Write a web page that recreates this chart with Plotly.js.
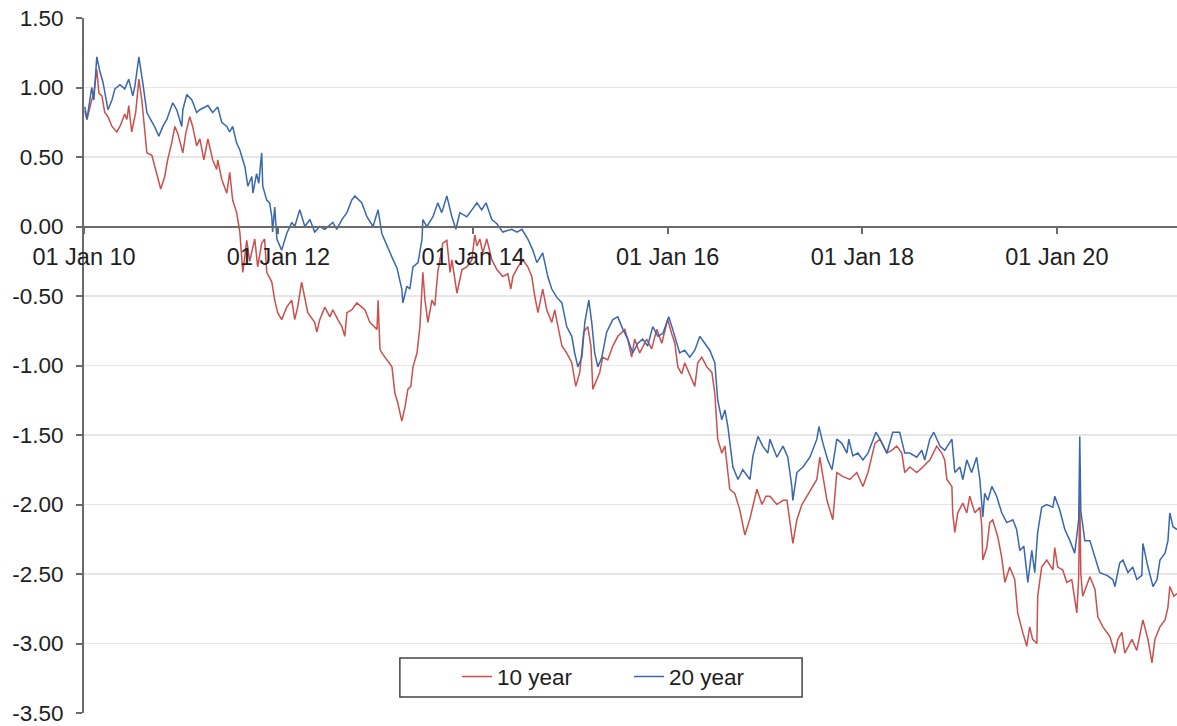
<!DOCTYPE html>
<html>
<head>
<meta charset="utf-8">
<script src="https://cdn.plot.ly/plotly-3.0.1.min.js"></script>
<style>
html,body{margin:0;padding:0;background:#fff;}
#chart{width:1177px;height:726px;}
</style>
</head>
<body>
<div id="chart"></div>
<script>
// Dates as decimal years
const years10 = [2010.010,2010.031,2010.082,2010.103,2010.134,2010.154,2010.185,2010.216,2010.247,2010.288,2010.339,2010.370,2010.421,2010.442,2010.462,2010.493,2010.534,2010.565,2010.596,2010.617,2010.647,2010.699,2010.730,2010.771,2010.791,2010.832,2010.863,2010.904,2010.935,2010.966,2011.017,2011.048,2011.089,2011.120,2011.161,2011.192,2011.233,2011.274,2011.326,2011.367,2011.377,2011.418,2011.470,2011.501,2011.531,2011.572,2011.603,2011.634,2011.675,2011.706,2011.757,2011.788,2011.829,2011.860,2011.881,2011.932,2011.963,2011.994,2012.035,2012.086,2012.138,2012.169,2012.199,2012.240,2012.271,2012.302,2012.374,2012.395,2012.425,2012.477,2012.528,2012.559,2012.610,2012.652,2012.682,2012.703,2012.754,2012.806,2012.857,2012.888,2012.939,2012.991,2013.011,2013.022,2013.042,2013.063,2013.114,2013.165,2013.196,2013.227,2013.268,2013.299,2013.330,2013.361,2013.381,2013.422,2013.453,2013.484,2013.505,2013.535,2013.576,2013.607,2013.638,2013.690,2013.731,2013.762,2013.782,2013.834,2013.885,2013.936,2013.988,2014.018,2014.039,2014.070,2014.101,2014.142,2014.193,2014.245,2014.306,2014.358,2014.388,2014.409,2014.461,2014.512,2014.563,2014.604,2014.635,2014.666,2014.717,2014.758,2014.810,2014.841,2014.913,2014.964,2015.015,2015.057,2015.098,2015.139,2015.180,2015.211,2015.231,2015.272,2015.303,2015.334,2015.385,2015.437,2015.488,2015.560,2015.591,2015.632,2015.663,2015.714,2015.786,2015.838,2015.889,2015.940,2016.002,2016.043,2016.074,2016.105,2016.146,2016.177,2016.249,2016.280,2016.310,2016.351,2016.403,2016.454,2016.485,2016.516,2016.557,2016.588,2016.619,2016.639,2016.691,2016.742,2016.793,2016.845,2016.917,2016.968,2017.009,2017.050,2017.122,2017.184,2017.225,2017.287,2017.328,2017.379,2017.431,2017.492,2017.533,2017.564,2017.636,2017.698,2017.739,2017.801,2017.873,2017.944,2018.006,2018.058,2018.130,2018.181,2018.253,2018.304,2018.356,2018.407,2018.438,2018.489,2018.561,2018.623,2018.695,2018.767,2018.818,2018.849,2018.870,2018.921,2018.931,2018.952,2018.983,2019.034,2019.075,2019.106,2019.157,2019.209,2019.229,2019.240,2019.281,2019.311,2019.342,2019.394,2019.435,2019.466,2019.517,2019.568,2019.599,2019.651,2019.692,2019.723,2019.753,2019.795,2019.805,2019.846,2019.897,2019.959,2019.979,2020.010,2020.062,2020.103,2020.154,2020.206,2020.226,2020.236,2020.247,2020.267,2020.339,2020.391,2020.422,2020.473,2020.545,2020.596,2020.627,2020.668,2020.699,2020.771,2020.822,2020.884,2020.935,2020.976,2021.007,2021.059,2021.110,2021.141,2021.161,2021.202,2021.233];
const values10 = [0.83,0.77,0.91,0.96,1.13,0.96,0.94,0.82,0.79,0.72,0.68,0.72,0.81,0.77,0.87,0.68,0.82,1.06,0.91,0.75,0.53,0.51,0.43,0.32,0.27,0.36,0.48,0.60,0.72,0.67,0.53,0.67,0.79,0.72,0.58,0.63,0.48,0.63,0.48,0.41,0.48,0.34,0.24,0.39,0.19,0.10,-0.04,-0.33,-0.10,-0.25,-0.09,-0.29,-0.12,-0.09,-0.33,-0.40,-0.53,-0.62,-0.67,-0.58,-0.53,-0.67,-0.58,-0.40,-0.53,-0.62,-0.69,-0.76,-0.67,-0.58,-0.65,-0.60,-0.67,-0.72,-0.79,-0.62,-0.60,-0.55,-0.58,-0.60,-0.69,-0.73,-0.74,-0.53,-0.88,-0.91,-0.96,-1.01,-1.20,-1.27,-1.40,-1.30,-1.17,-1.15,-1.01,-0.91,-0.72,-0.33,-0.53,-0.69,-0.53,-0.57,-0.33,-0.12,-0.10,-0.33,-0.24,-0.48,-0.31,-0.29,-0.24,-0.06,-0.14,-0.09,-0.19,-0.09,-0.24,-0.31,-0.36,-0.34,-0.45,-0.36,-0.29,-0.24,-0.29,-0.36,-0.50,-0.62,-0.45,-0.60,-0.69,-0.60,-0.86,-0.91,-0.98,-1.15,-1.05,-0.76,-0.72,-0.86,-1.17,-1.10,-1.05,-0.94,-0.96,-0.86,-0.79,-0.74,-0.81,-0.94,-0.81,-0.91,-0.81,-0.88,-0.74,-0.84,-0.67,-0.77,-0.84,-1.01,-1.06,-0.98,-1.10,-1.15,-0.98,-0.94,-1.01,-1.05,-1.20,-1.53,-1.63,-1.58,-1.77,-1.89,-1.92,-2.04,-2.22,-2.10,-1.89,-2.00,-1.94,-1.94,-2.00,-1.97,-1.97,-2.28,-2.11,-2.00,-1.94,-1.87,-1.82,-1.66,-1.97,-2.11,-1.77,-1.80,-1.82,-1.77,-1.87,-1.77,-1.56,-1.53,-1.63,-1.61,-1.58,-1.63,-1.77,-1.73,-1.77,-1.73,-1.68,-1.58,-1.63,-1.68,-1.82,-1.87,-2.06,-2.20,-2.06,-1.99,-2.06,-1.94,-2.06,-2.02,-2.15,-2.40,-2.31,-2.13,-2.11,-2.23,-2.38,-2.56,-2.45,-2.54,-2.78,-2.92,-3.02,-2.88,-2.97,-3.00,-2.66,-2.45,-2.40,-2.47,-2.31,-2.45,-2.47,-2.56,-2.54,-2.78,-2.52,-1.94,-2.50,-2.66,-2.52,-2.61,-2.81,-2.88,-2.95,-3.07,-2.97,-2.92,-3.07,-2.97,-3.05,-2.83,-2.97,-3.14,-2.97,-2.88,-2.83,-2.74,-2.59,-2.66,-2.64];

const years20 = [2010.010,2010.031,2010.082,2010.103,2010.134,2010.164,2010.195,2010.226,2010.247,2010.288,2010.319,2010.370,2010.421,2010.462,2010.504,2010.524,2010.565,2010.606,2010.647,2010.678,2010.719,2010.771,2010.812,2010.853,2010.915,2010.956,2011.007,2011.017,2011.059,2011.110,2011.161,2011.192,2011.274,2011.326,2011.377,2011.418,2011.470,2011.501,2011.531,2011.572,2011.603,2011.655,2011.686,2011.727,2011.737,2011.778,2011.799,2011.829,2011.840,2011.881,2011.912,2011.932,2011.942,2011.963,2011.984,2012.035,2012.086,2012.138,2012.169,2012.220,2012.271,2012.323,2012.374,2012.425,2012.477,2012.559,2012.600,2012.652,2012.703,2012.754,2012.785,2012.857,2012.909,2012.970,2013.022,2013.063,2013.114,2013.165,2013.217,2013.268,2013.279,2013.320,2013.350,2013.381,2013.433,2013.474,2013.484,2013.525,2013.587,2013.638,2013.679,2013.731,2013.782,2013.823,2013.864,2013.936,2013.988,2014.039,2014.090,2014.132,2014.193,2014.245,2014.306,2014.399,2014.450,2014.502,2014.563,2014.615,2014.656,2014.717,2014.769,2014.810,2014.861,2014.913,2014.964,2015.015,2015.046,2015.077,2015.118,2015.149,2015.190,2015.221,2015.252,2015.283,2015.324,2015.375,2015.437,2015.488,2015.540,2015.591,2015.642,2015.694,2015.745,2015.797,2015.848,2015.899,2015.951,2016.012,2016.053,2016.095,2016.125,2016.177,2016.228,2016.280,2016.331,2016.382,2016.434,2016.485,2016.516,2016.557,2016.588,2016.619,2016.670,2016.722,2016.773,2016.845,2016.876,2016.927,2016.978,2017.030,2017.050,2017.122,2017.184,2017.235,2017.276,2017.287,2017.328,2017.390,2017.461,2017.533,2017.554,2017.595,2017.646,2017.688,2017.739,2017.790,2017.842,2017.862,2017.903,2017.955,2018.006,2018.058,2018.140,2018.181,2018.253,2018.314,2018.386,2018.438,2018.489,2018.561,2018.613,2018.643,2018.695,2018.736,2018.798,2018.849,2018.921,2018.952,2019.003,2019.034,2019.075,2019.126,2019.178,2019.209,2019.240,2019.260,2019.291,2019.332,2019.383,2019.435,2019.486,2019.548,2019.589,2019.620,2019.661,2019.692,2019.702,2019.743,2019.774,2019.805,2019.846,2019.897,2019.959,2019.979,2020.031,2020.082,2020.134,2020.185,2020.226,2020.236,2020.247,2020.288,2020.339,2020.391,2020.442,2020.514,2020.576,2020.596,2020.647,2020.678,2020.730,2020.781,2020.822,2020.874,2020.884,2020.935,2020.987,2021.028,2021.059,2021.110,2021.141,2021.161,2021.192,2021.233];
const values20 = [0.86,0.77,1.00,0.91,1.22,1.12,1.04,0.91,0.84,0.91,0.99,1.02,0.99,1.06,0.94,1.01,1.22,1.03,0.82,0.78,0.73,0.65,0.72,0.77,0.89,0.84,0.72,0.84,0.95,0.91,0.82,0.84,0.87,0.82,0.86,0.75,0.72,0.68,0.72,0.60,0.55,0.43,0.29,0.36,0.24,0.38,0.31,0.53,0.29,0.19,0.17,0.07,-0.04,0.14,-0.09,-0.17,-0.05,0.03,0.00,0.12,0.00,0.05,-0.04,0.00,-0.02,0.03,-0.02,0.05,0.10,0.19,0.22,0.17,0.07,0.00,0.12,-0.05,-0.14,-0.22,-0.30,-0.45,-0.55,-0.43,-0.45,-0.29,-0.26,-0.09,0.05,0.00,0.07,0.17,0.10,0.22,0.07,-0.02,0.10,0.07,0.12,0.17,0.12,0.17,0.05,0.02,-0.04,-0.02,-0.04,-0.02,-0.09,-0.17,-0.26,-0.19,-0.36,-0.45,-0.51,-0.55,-0.72,-0.79,-0.91,-1.01,-0.94,-0.69,-0.53,-0.69,-0.91,-1.01,-0.94,-0.76,-0.67,-0.65,-0.74,-0.81,-0.91,-0.84,-0.81,-0.86,-0.72,-0.79,-0.77,-0.65,-0.74,-0.84,-0.91,-0.89,-0.94,-0.89,-0.79,-0.84,-0.89,-0.98,-1.25,-1.39,-1.32,-1.44,-1.73,-1.82,-1.75,-1.82,-1.65,-1.51,-1.58,-1.63,-1.53,-1.66,-1.58,-1.66,-1.87,-1.97,-1.77,-1.73,-1.66,-1.53,-1.44,-1.56,-1.68,-1.75,-1.53,-1.56,-1.63,-1.53,-1.65,-1.63,-1.68,-1.63,-1.48,-1.53,-1.63,-1.48,-1.48,-1.63,-1.63,-1.66,-1.61,-1.68,-1.53,-1.48,-1.58,-1.61,-1.53,-1.77,-1.73,-1.82,-1.68,-1.77,-1.66,-1.82,-2.09,-1.92,-1.97,-1.87,-1.94,-2.06,-2.13,-2.11,-2.18,-2.33,-2.30,-2.49,-2.56,-2.33,-2.49,-2.20,-2.02,-2.00,-2.02,-1.94,-2.04,-2.18,-2.26,-2.35,-2.11,-1.51,-2.05,-2.26,-2.26,-2.38,-2.49,-2.51,-2.54,-2.59,-2.42,-2.40,-2.49,-2.45,-2.54,-2.51,-2.28,-2.45,-2.59,-2.54,-2.40,-2.35,-2.26,-2.06,-2.16,-2.18];

const seriesNames = ['10 year', '20 year'];
const tickYears = [2010, 2012, 2014, 2016, 2018, 2020];
const yTickVals = [1.5, 1.0, 0.5, 0.0, -0.5, -1.0, -1.5, -2.0, -2.5, -3.0, -3.5];
const yTickText = ['1.50', '1.00', '0.50', '0.00', '-0.50', '-1.00', '-1.50', '-2.00', '-2.50', '-3.00', '-3.50'];

function decToDate(t) {
  const y = Math.floor(t);
  const a = Date.UTC(y, 0, 1), b = Date.UTC(y + 1, 0, 1);
  return new Date(a + (t - y) * (b - a)).toISOString().slice(0, 10);
}

const fontFam = '"Liberation Sans", Arial, Helvetica, sans-serif';
const traces = [
  {x: years10.map(decToDate), y: values10, name: seriesNames[0], type: 'scatter', mode: 'lines',
   line: {color: '#C9504E', width: 1.5}},
  {x: years20.map(decToDate), y: values20, name: seriesNames[1], type: 'scatter', mode: 'lines',
   line: {color: '#3867B0', width: 1.5}}
];

const layout = {
  width: 1177, height: 726,
  margin: {l: 84, r: 0, t: 18, b: 13},
  paper_bgcolor: '#fff', plot_bgcolor: '#fff',
  font: {family: fontFam, size: 22, color: '#1e1e1e'},
  showlegend: true,
  legend: {orientation: 'h', x: 0.3413, xanchor: 'left', y: 0.052, yanchor: 'middle',
           font: {family: fontFam, size: 22.5, color: '#1e1e1e'}, bgcolor: 'rgba(0,0,0,0)',
           borderwidth: 0, entrywidth: 127, entrywidthmode: 'pixels', itemwidth: 30},
  xaxis: {type: 'date', range: ['2010-01-01', '2021-03-27'], anchor: 'free', position: 0.7,
          showline: true, linecolor: '#6a6a6a', linewidth: 2, showgrid: false, zeroline: false,
          ticks: 'outside', ticklen: 6, tickwidth: 2, tickcolor: '#6a6a6a', ticklabelstandoff: 3,
          tickvals: tickYears.map(y => y + '-01-01'), tickformat: '%d %b %y',
          tickfont: {family: fontFam, size: 23.5, color: '#1e1e1e'}},
  yaxis: {range: [-3.5, 1.5], tickmode: 'array', tickvals: yTickVals, ticktext: yTickText,
          showline: true, linecolor: '#6a6a6a', linewidth: 2, zeroline: false,
          showgrid: true, gridcolor: '#e6e6e6', gridwidth: 1.5,
          ticks: 'outside', ticklen: 6, tickwidth: 2, tickcolor: '#6a6a6a', ticklabelstandoff: 8,
          tickfont: {family: fontFam, size: 22.5, color: '#1e1e1e'}},
  shapes: [
    {type: 'rect', xref: 'paper', yref: 'paper', x0: 0.289, x1: 0.657, y0: 0.023, y1: 0.079,
     line: {color: '#444', width: 1.5}, fillcolor: 'rgba(0,0,0,0)', layer: 'above'}
  ]
};

Plotly.newPlot('chart', traces, layout, {displayModeBar: false, staticPlot: true});
</script>
</body>
</html>
